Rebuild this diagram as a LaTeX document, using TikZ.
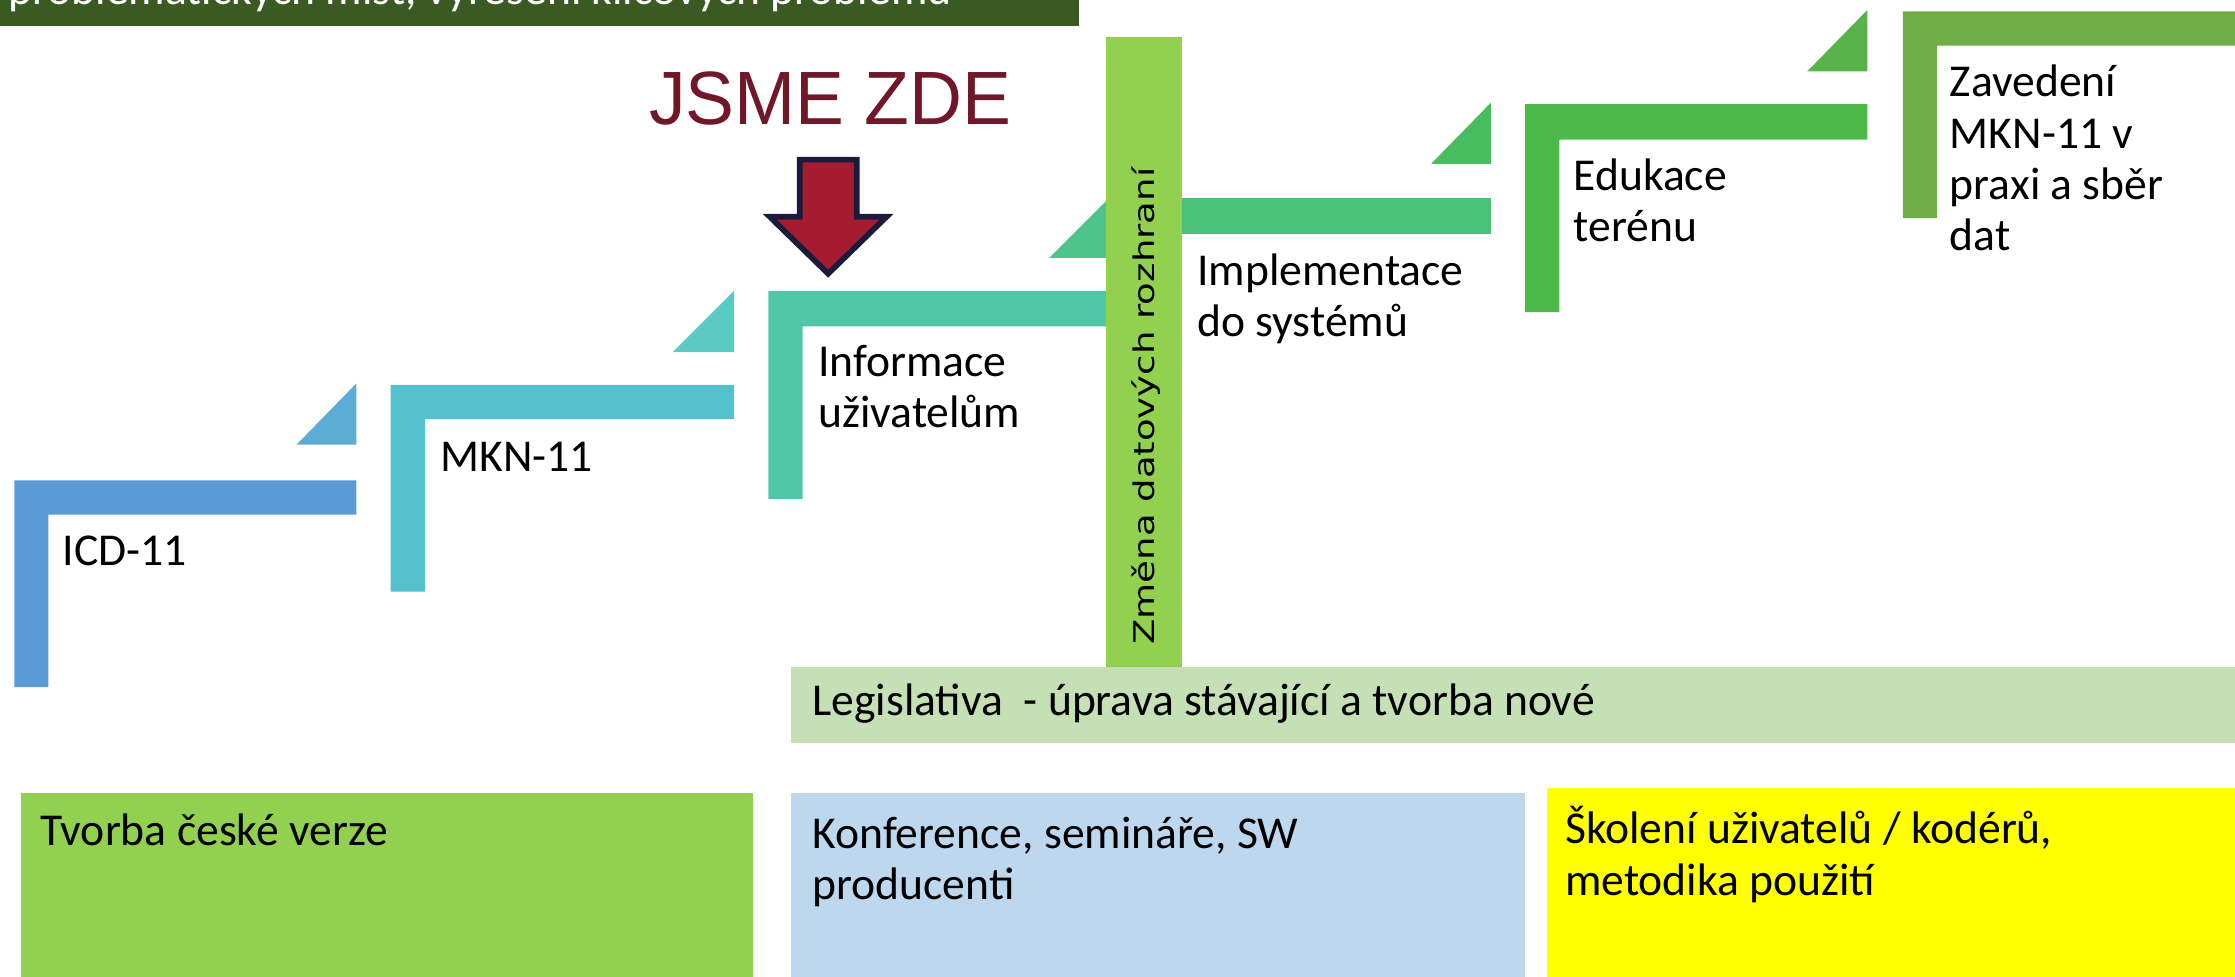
\documentclass[tikz,border=0pt]{standalone}
\usepackage{fontspec}
\usepackage{graphicx}
\setmainfont{Carlito}
\newfontfamily\arialfont{Liberation Sans}
\newfontfamily\dejavufont{DejaVu Sans}
\definecolor{banner}{HTML}{3A5A24}
\definecolor{sA}{HTML}{5B9BD5}
\definecolor{tA}{HTML}{5BADD3}
\definecolor{sB}{HTML}{54C1CF}
\definecolor{tB}{HTML}{59CBC2}
\definecolor{sC}{HTML}{50C8A8}
\definecolor{tC}{HTML}{4EC48A}
\definecolor{zmena}{HTML}{92D050}
\definecolor{sD}{HTML}{4BC27A}
\definecolor{tD}{HTML}{48BC5F}
\definecolor{sE}{HTML}{4BBA48}
\definecolor{tE}{HTML}{58B34A}
\definecolor{sF}{HTML}{70AD47}
\definecolor{legis}{HTML}{C5E0B4}
\definecolor{tvorba}{HTML}{92D050}
\definecolor{konf}{HTML}{BDD7EE}
\definecolor{skol}{HTML}{FFFF00}
\definecolor{arrowfill}{HTML}{A51C30}
\definecolor{arrowline}{HTML}{1C1A3A}
\definecolor{jsme}{HTML}{701828}
\begin{document}
\begin{tikzpicture}[x=0.5pt,y=-0.5pt,
  lbl/.style={anchor=base west, inner sep=0pt, outer sep=0pt, align=left,
    font=\fontsize{16pt}{18pt}\selectfont, text=black}]
\useasboundingbox (0,0) rectangle (1568,685);
\clip (0,0) rectangle (1568,685);
% banner
\fill[banner] (0,0) rectangle (757,18);
\node[lbl, text=white] (bannertxt) at (6,3.5) {problematických míst, vyřešení klíčových problémů};
% step 1
\fill[sA] (10,482) -- (10,337) -- (250,337) -- (250,361) -- (34,361) -- (34,482) -- cycle;
\fill[tA] (208,312) -- (250,312) -- (250,269) -- cycle;
% step 2
\fill[sB] (274,415) -- (274,270) -- (515,270) -- (515,294) -- (298,294) -- (298,415) -- cycle;
\fill[tB] (472,247) -- (515,247) -- (515,204) -- cycle;
% step 3
\fill[sC] (539,350) -- (539,204) -- (778,204) -- (778,229) -- (563,229) -- (563,350) -- cycle;
\fill[tC] (736,181) -- (778,181) -- (778,139) -- cycle;
% zmena bar
\fill[zmena] (776,26) rectangle (829,468);
\node[rotate=90, inner sep=0pt, font=\dejavufont\fontsize{10pt}{12pt}\selectfont] (zmenatxt) at (804,285) {\scalebox{1.3}[1]{Změna datových rozhraní}};
% step 4
\fill[sD] (829,139) rectangle (1046,164);
\fill[tD] (1004,115) -- (1046,115) -- (1046,72) -- cycle;
% step 5
\fill[sE] (1070,219) -- (1070,73) -- (1310,73) -- (1310,98) -- (1094,98) -- (1094,219) -- cycle;
\fill[tE] (1268,50) -- (1310,50) -- (1310,7) -- cycle;
% step 6
\fill[sF] (1335,153) -- (1335,8) -- (1570,8) -- (1570,32) -- (1359,32) -- (1359,153) -- cycle;
% step labels (base anchor = baseline of last line)
\node[lbl] (icd) at (44,397) {ICD-11};
\node[lbl] (mkn) at (309,331) {MKN-11};
\node[lbl] (info) at (574,300) {Informace\\uživatelům};
\node[lbl] (impl) at (840,236) {Implementace\\do systémů};
\node[lbl] (edu) at (1104,169.5) {Edukace\\terénu};
\node[lbl] (zav) at (1368,176) {Zavedení\\MKN-11 v\\praxi a sběr\\dat};
% legislativa
\fill[legis] (555,468) rectangle (1570,521);
\node[lbl] (legtxt) at (570,502) {Legislativa\ \ - úprava stávající a tvorba nové};
% bottom boxes
\fill[tvorba] (15,556) rectangle (528,690);
\node[lbl] (tvtxt) at (28.5,593) {Tvorba české verze};
\fill[konf] (555,556) rectangle (1070,690);
\node[lbl] (kotxt) at (570,631) {Konference, semináře, SW\\producenti};
\fill[skol] (1085,553) rectangle (1570,690);
\node[lbl] (sktxt) at (1098,628) {Školení uživatelů / kodérů,\\metodika použití};
% arrow
\draw[arrowline, fill=arrowfill, line width=2, line join=miter]
  (561,112) -- (601,112) -- (601,152) -- (622,152) -- (581,192) -- (540,152) -- (561,152) -- cycle;
\node[anchor=base west, inner sep=0pt, text=jsme, font=\arialfont\fontsize{26.5pt}{30pt}\selectfont] (jsmetxt) at (455,87) {\scalebox{0.97}[1]{JSME ZDE}};
\end{tikzpicture}
\end{document}
